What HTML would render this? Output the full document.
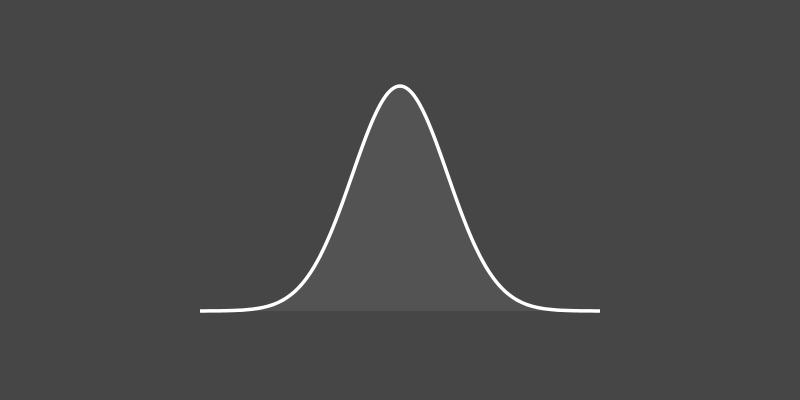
<!DOCTYPE html>
<html><head><meta charset="utf-8"><style>
html,body{margin:0;padding:0;background:#464646;}
svg{display:block;}
</style></head><body>
<svg id="chart" width="800" height="400">
<rect width="800" height="400" fill="#464646"></rect>
<path id="area" fill="#535353"></path>
<path id="line" fill="none" stroke="#ffffff" stroke-width="3.5" stroke-linejoin="round"></path>
</svg>
<script>
const mean = [0];
const sd = [1];
const domain = [-4.2, 4.2];
const samples = [200];
const xRange = [200, 600];
const yBase = 311, yPeak = 86;
function xs(v){return xRange[0] + (v-domain[0])/(domain[1]-domain[0])*(xRange[1]-xRange[0]);}
const peak = 1/(sd[0]*Math.sqrt(2*Math.PI));
function ys(d){return yBase - d/peak*(yBase-yPeak);}
let pts=[];
for(let i=0;i<=samples[0];i++){
  const v = domain[0] + (domain[1]-domain[0])*i/samples[0];
  const d = Math.exp(-((v-mean[0])**2)/(2*sd[0]**2))/(sd[0]*Math.sqrt(2*Math.PI));
  pts.push([xs(v), ys(d)]);
}
const line = 'M'+pts.map(p=>p[0].toFixed(2)+','+p[1].toFixed(2)).join('L');
document.getElementById('line').setAttribute('d', line);
document.getElementById('area').setAttribute('d', line + 'L'+xs(domain[1])+','+yBase+'L'+xs(domain[0])+','+yBase+'Z');
</script>
</body></html>
